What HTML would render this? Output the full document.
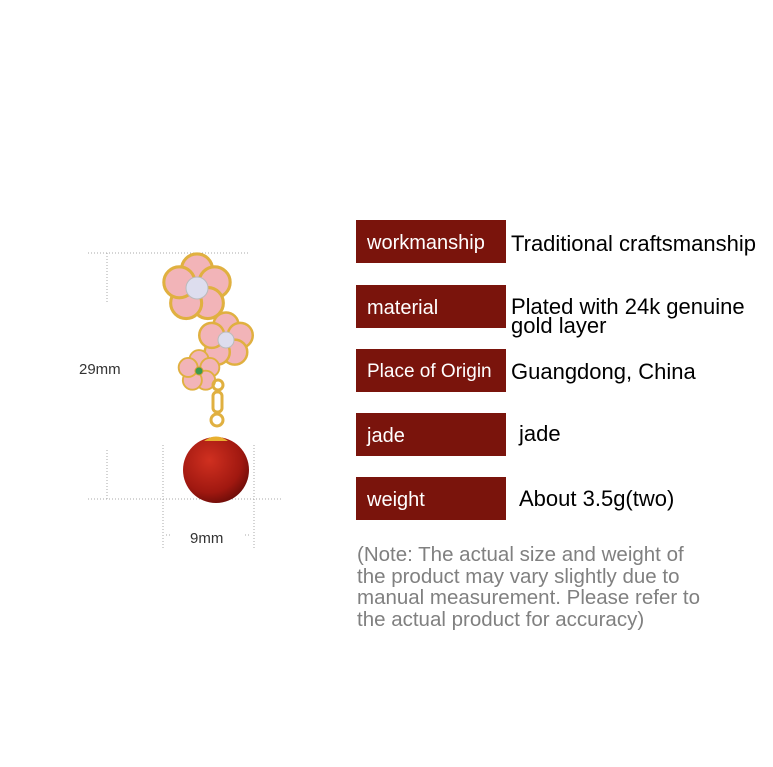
<!DOCTYPE html>
<html><head><meta charset="utf-8"><style>
body{margin:0;width:773px;height:767px;background:#fff;position:relative;overflow:hidden;font-family:"Liberation Sans",sans-serif}
.b{position:absolute;left:356px;width:150px;height:43px;background:#7a140c;color:#fff;font-size:20px;line-height:46px;box-sizing:border-box;padding-left:11px;white-space:nowrap}
.v{position:absolute;left:511px;font-size:22px;color:#000;line-height:19px}
.n{position:absolute;left:357px;top:544px;font-size:20.5px;line-height:21.5px;color:#808080;width:352px}
</style></head><body>
<svg width="773" height="767" style="position:absolute;left:0;top:0">
<g stroke="#aaa" stroke-width="1" stroke-dasharray="1,2" fill="none">
<line x1="88" y1="253" x2="248" y2="253"/><line x1="107" y1="253" x2="107" y2="303"/>
<line x1="107" y1="450" x2="107" y2="499"/><line x1="88" y1="499" x2="282" y2="499"/>
<line x1="163" y1="445" x2="163" y2="550"/><line x1="254" y1="445" x2="254" y2="550"/>
<line x1="166" y1="535" x2="172" y2="535"/><line x1="245" y1="535" x2="251" y2="535"/>
</g>
<text x="79" y="374" font-size="15" fill="#333" font-family="Liberation Sans">29mm</text>
<text x="190" y="543" font-size="15" fill="#333" font-family="Liberation Sans">9mm</text>
<defs>
<g id="fl"><g fill="#f2b4b8" stroke="#e0b040" stroke-width="2">
<circle cx="0" cy="-12" r="10"/><circle cx="11.4" cy="-3.7" r="10"/><circle cx="7" cy="9.7" r="10"/><circle cx="-7" cy="9.7" r="10"/><circle cx="-11.4" cy="-3.7" r="10"/></g></g>
<radialGradient id="pg" cx="0.4" cy="0.35" r="0.7"><stop offset="0" stop-color="#d03020"/><stop offset="0.7" stop-color="#a01810"/><stop offset="1" stop-color="#6a0c08"/></radialGradient>
</defs>
<use href="#fl" transform="translate(197,288) scale(1.55)"/>
<circle cx="197" cy="288" r="11" fill="#dde" stroke="#bbb"/>
<use href="#fl" transform="translate(226,340) scale(1.25)"/>
<circle cx="226" cy="340" r="8" fill="#dde" stroke="#bbb"/>
<use href="#fl" transform="translate(199,371) scale(0.95)"/>
<circle cx="199" cy="371" r="4" fill="#3a9a50" stroke="#d4a030"/>
<circle cx="218" cy="385" r="5" fill="none" stroke="#e0b040" stroke-width="3"/>
<rect x="213" y="392" width="9" height="20" rx="4" fill="none" stroke="#e0b040" stroke-width="3"/>
<circle cx="217" cy="420" r="6" fill="none" stroke="#e0b040" stroke-width="3"/>
<circle cx="216" cy="470" r="33" fill="url(#pg)"/>
<path d="M204 441 Q216 432 228 441 Z" fill="#e8b030"/>
</svg>
<div class="b" style="top:220px">workmanship</div><div class="v" style="top:234px">Traditional craftsmanship</div>
<div class="b" style="top:285px">material</div><div class="v" style="top:297px">Plated with 24k genuine<br>gold layer</div>
<div class="b" style="top:349px;font-size:19px">Place of Origin</div><div class="v" style="top:362px">Guangdong, China</div>
<div class="b" style="top:413px">jade</div><div class="v" style="top:424px;left:519px">jade</div>
<div class="b" style="top:477px">weight</div><div class="v" style="top:489px;left:519px">About 3.5g(two)</div>
<div class="n">(Note: The actual size and weight of the product may vary slightly due to manual measurement. Please refer to the actual product for accuracy)</div>
</body></html>
